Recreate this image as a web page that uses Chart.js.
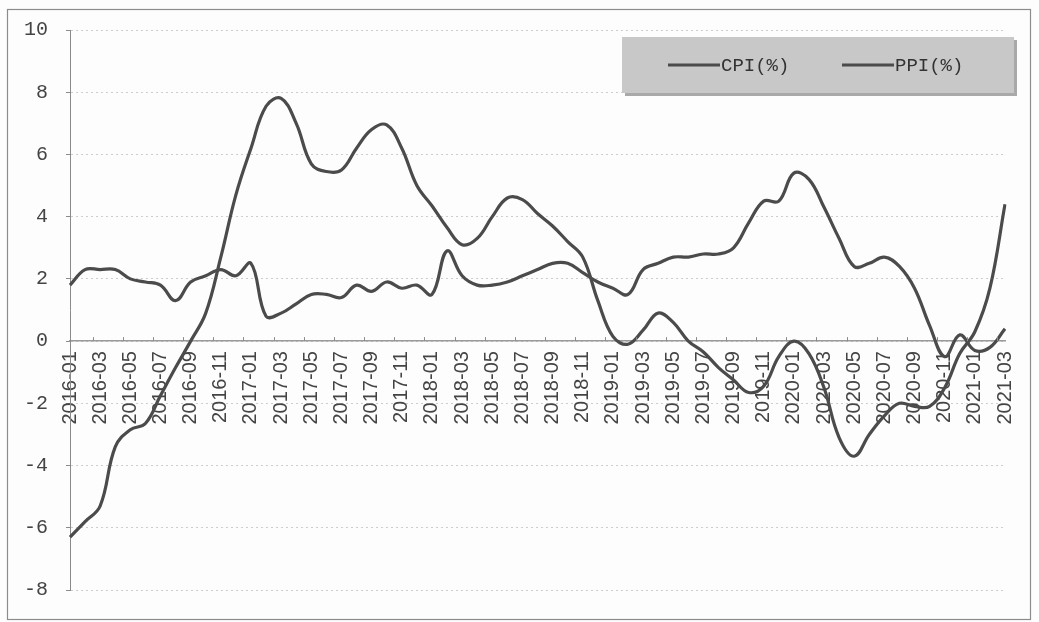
<!DOCTYPE html>
<html>
<head>
<meta charset="utf-8">
<script src="https://cdn.jsdelivr.net/npm/chart.js@4.4.1/dist/chart.umd.min.js"></script>
<style>
    html, body { margin: 0; padding: 0; background: #fff; }
</style>
</head>
<body>
<canvas id="myChart" width="1039" height="622"></canvas>
<script>

const months = [
    '2016-01', '2016-02', '2016-03', '2016-04', '2016-05', '2016-06', '2016-07', '2016-08', '2016-09', '2016-10', '2016-11', '2016-12',
    '2017-01', '2017-02', '2017-03', '2017-04', '2017-05', '2017-06', '2017-07', '2017-08', '2017-09', '2017-10', '2017-11', '2017-12',
    '2018-01', '2018-02', '2018-03', '2018-04', '2018-05', '2018-06', '2018-07', '2018-08', '2018-09', '2018-10', '2018-11', '2018-12',
    '2019-01', '2019-02', '2019-03', '2019-04', '2019-05', '2019-06', '2019-07', '2019-08', '2019-09', '2019-10', '2019-11', '2019-12',
    '2020-01', '2020-02', '2020-03', '2020-04', '2020-05', '2020-06', '2020-07', '2020-08', '2020-09', '2020-10', '2020-11', '2020-12',
    '2021-01', '2021-02', '2021-03'
];

const cpi = [
    1.8, 2.3, 2.3, 2.3, 2.0, 1.9, 1.8, 1.3, 1.9, 2.1, 2.3, 2.1,
    2.5, 0.8, 0.9, 1.2, 1.5, 1.5, 1.4, 1.8, 1.6, 1.9, 1.7, 1.8,
    1.5, 2.9, 2.1, 1.8, 1.8, 1.9, 2.1, 2.3, 2.5, 2.5, 2.2, 1.9,
    1.7, 1.5, 2.3, 2.5, 2.7, 2.7, 2.8, 2.8, 3.0, 3.8, 4.5, 4.5,
    5.4, 5.2, 4.3, 3.3, 2.4, 2.5, 2.7, 2.4, 1.7, 0.5, -0.5, 0.2,
    -0.3, -0.2, 0.4
];

const ppi = [
    -6.3, -5.8, -5.3, -3.4, -2.85, -2.65, -1.75, -0.85, 0.0, 0.9, 2.7, 4.7,
    6.2, 7.55, 7.8, 7.0, 5.7, 5.45, 5.5, 6.2, 6.8, 6.95, 6.2, 5.0,
    4.35, 3.65, 3.1, 3.3, 4.0, 4.6, 4.55, 4.1, 3.7, 3.2, 2.7, 1.3,
    0.15, -0.1, 0.35, 0.9, 0.6, 0.0, -0.35, -0.85, -1.25, -1.65, -1.45, -0.5,
    0.0, -0.4, -1.5, -3.1, -3.7, -3.0, -2.4, -2.0, -2.1, -2.1, -1.5, -0.4,
    0.3, 1.7, 4.4
];

const yMin = -8;
const yMax = 10;
const yStep = 2;

const lineColor = '#4b4b4b';

// white page + thin scanned frame
const framePlugin = {
    id: 'frame',
    beforeDraw(chart) {
        const c = chart.ctx;
        c.save();
        c.fillStyle = '#fdfdfd';
        c.fillRect(0, 0, chart.width, chart.height);
        c.strokeStyle = '#8c8c8c';
        c.lineWidth = 1.2;
        c.strokeRect(7.5, 9.5, 1023, 610);
        c.restore();
    }
};

// small upward ticks on the zero axis, between every second category
const axisTicks = {
    id: 'axisTicks',
    afterDraw(chart) {
        const x = chart.scales.x;
        const y0 = chart.scales.y.getPixelForValue(0);
        const c = chart.ctx;
        c.save();
        c.strokeStyle = '#8a8a8a';
        c.lineWidth = 1;
        for (let k = 1.5; k < months.length - 1; k += 2) {
            const px = Math.round(x.getPixelForValue(k)) + 0.5;
            c.beginPath();
            c.moveTo(px, y0);
            c.lineTo(px, y0 - 4);
            c.stroke();
        }
        c.restore();
    }
};

// grey legend box in the top right corner
const legendBox = {
    id: 'legendBox',
    afterDraw(chart) {
        const c = chart.ctx;
        c.save();
        c.fillStyle = '#a9a9a9';
        c.fillRect(625, 40, 392, 56);
        c.fillStyle = '#c8c8c8';
        c.fillRect(622, 37, 392, 56);
        const xs = [668, 842];
        chart.data.datasets.forEach((ds, i) => {
            c.strokeStyle = ds.borderColor;
            c.lineWidth = 3;
            c.beginPath();
            c.moveTo(xs[i], 65);
            c.lineTo(xs[i] + 52, 65);
            c.stroke();
            c.fillStyle = '#333';
            c.font = '19px "Liberation Mono", monospace';
            c.textBaseline = 'middle';
            c.fillText(ds.label, xs[i] + 53, 66);
        });
        c.restore();
    }
};

const ctx = document.getElementById('myChart');

new Chart(ctx, {
    type: 'line',
    data: {
        labels: months,
        datasets: [{
            label: 'CPI(%)',
            data: cpi,
            borderColor: lineColor,
            borderWidth: 3.2,
            pointRadius: 0,
            tension: 0.4,
            fill: false
        }, {
            label: 'PPI(%)',
            data: ppi,
            borderColor: lineColor,
            borderWidth: 3.2,
            pointRadius: 0,
            tension: 0.4,
            fill: false
        }]
    },
    options: {
        responsive: false,
        animation: false,
        layout: {
            padding: { top: 29, right: 26, bottom: 32, left: 0 }
        },
        plugins: {
            legend: { display: false },
            tooltip: { enabled: false }
        },
        scales: {
            x: {
                position: { y: 0 },
                offset: false,
                grid: { display: false, drawTicks: false },
                border: { display: true, color: '#9a9a9a', width: 1.5 },
                ticks: {
                    autoSkip: false,
                    minRotation: 90,
                    maxRotation: 90,
                    padding: 10,
                    color: '#444',
                    font: { family: '"Liberation Sans Narrow", "Liberation Sans", sans-serif', size: 20 },
                    callback: function (val, idx) {
                        return idx % 2 === 0 ? this.getLabelForValue(val) : '';
                    }
                }
            },
            y: {
                min: yMin,
                max: yMax,
                afterFit: (scale) => { scale.width = 70; },
                ticks: {
                    stepSize: yStep,
                    padding: 18,
                    color: '#444',
                    font: { family: '"Liberation Mono", monospace', size: 20 }
                },
                border: { display: true, color: '#8a8a8a', width: 1, dash: [2, 3] },
                grid: {
                    color: '#cdcdcd',
                    tickColor: '#8a8a8a',
                    tickLength: 4,
                    lineWidth: 1
                }
            }
        }
    },
    plugins: [framePlugin, axisTicks, legendBox]
});

</script>
</body>
</html>
